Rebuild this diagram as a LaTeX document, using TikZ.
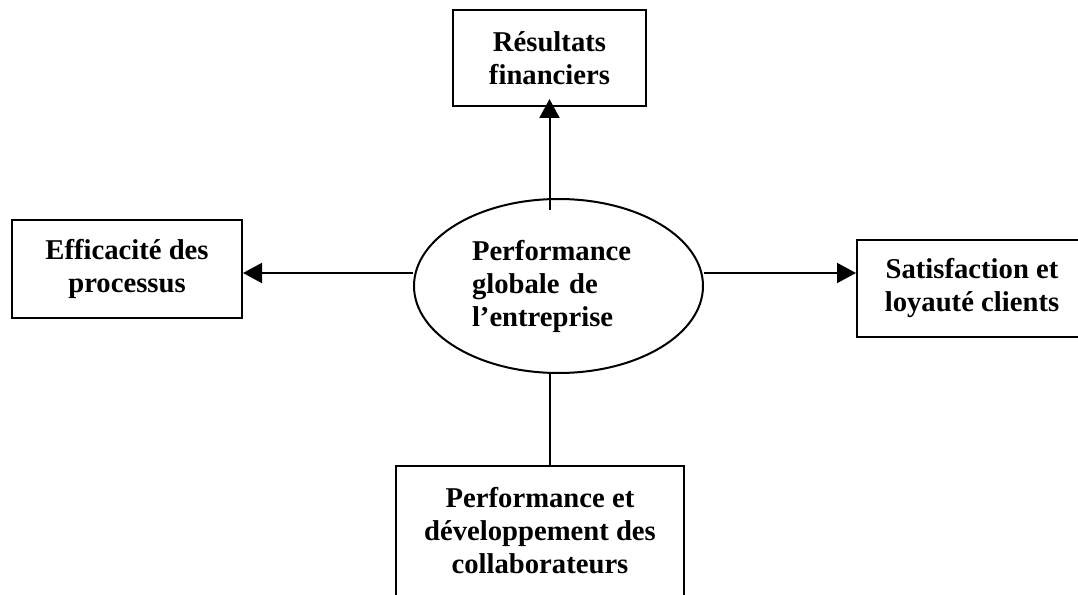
\documentclass[tikz,border=0pt]{standalone}
\usepackage{fontspec}
\setmainfont{Liberation Serif}
\usetikzlibrary{arrows.meta, shapes.geometric}

\begin{document}
\begin{tikzpicture}[
    x=0.75pt, y=-0.75pt,
    box/.style={rectangle, draw, line width=1.5pt, align=center, inner sep=0pt, font=\fontsize{21.5}{24.75}\selectfont\bfseries},
    ellbox/.style={ellipse, draw, line width=1.5pt, align=left, text width=129.75pt, inner sep=0pt, minimum width=216.75pt, minimum height=130.5pt, font=\fontsize{21.5}{24.75}\selectfont\bfseries},
    arrow/.style={-{Triangle[length=14.25pt, width=15pt]}, line width=1.5pt},
    link/.style={line width=1.5pt}
]
    \useasboundingbox (0,0) rectangle (1078,595);
    \clip (0,0) rectangle (1078,595);

    % Components
    \node[ellbox] (perf) at (558.5,286) {Performance\\globale de\\l’entreprise};
    \node[box, minimum width=144.75pt, minimum height=72pt] (fin) at (549.5,58) {Résultats\\financiers};
    \node[box, minimum width=172.5pt, minimum height=73.5pt] (proc) at (127,269) {Efficacité des\\processus};
    \node[box, minimum width=172.5pt, minimum height=72.75pt] (cli) at (972,288.5) {Satisfaction et\\loyauté clients};
    \node[box, minimum width=216pt, minimum height=108pt] (collab) at (540,538) {Performance et\\développement des\\collaborateurs\rule[-12pt]{0pt}{12pt}};

    % Flow arrows
    \draw[arrow, shorten <=-9pt, shorten >=-6pt] (perf.north -| fin.south) -- (fin.south);
    \draw[arrow] ([yshift=9.75pt]perf.west) -- ([yshift=9.75pt]perf.west -| proc.east);
    \draw[arrow] ([yshift=9.75pt]perf.east) -- ([yshift=9.75pt]perf.east -| cli.west);
    \draw[link] (perf.south -| fin.south) -- (fin.south |- collab.north);
\end{tikzpicture}
\end{document}
